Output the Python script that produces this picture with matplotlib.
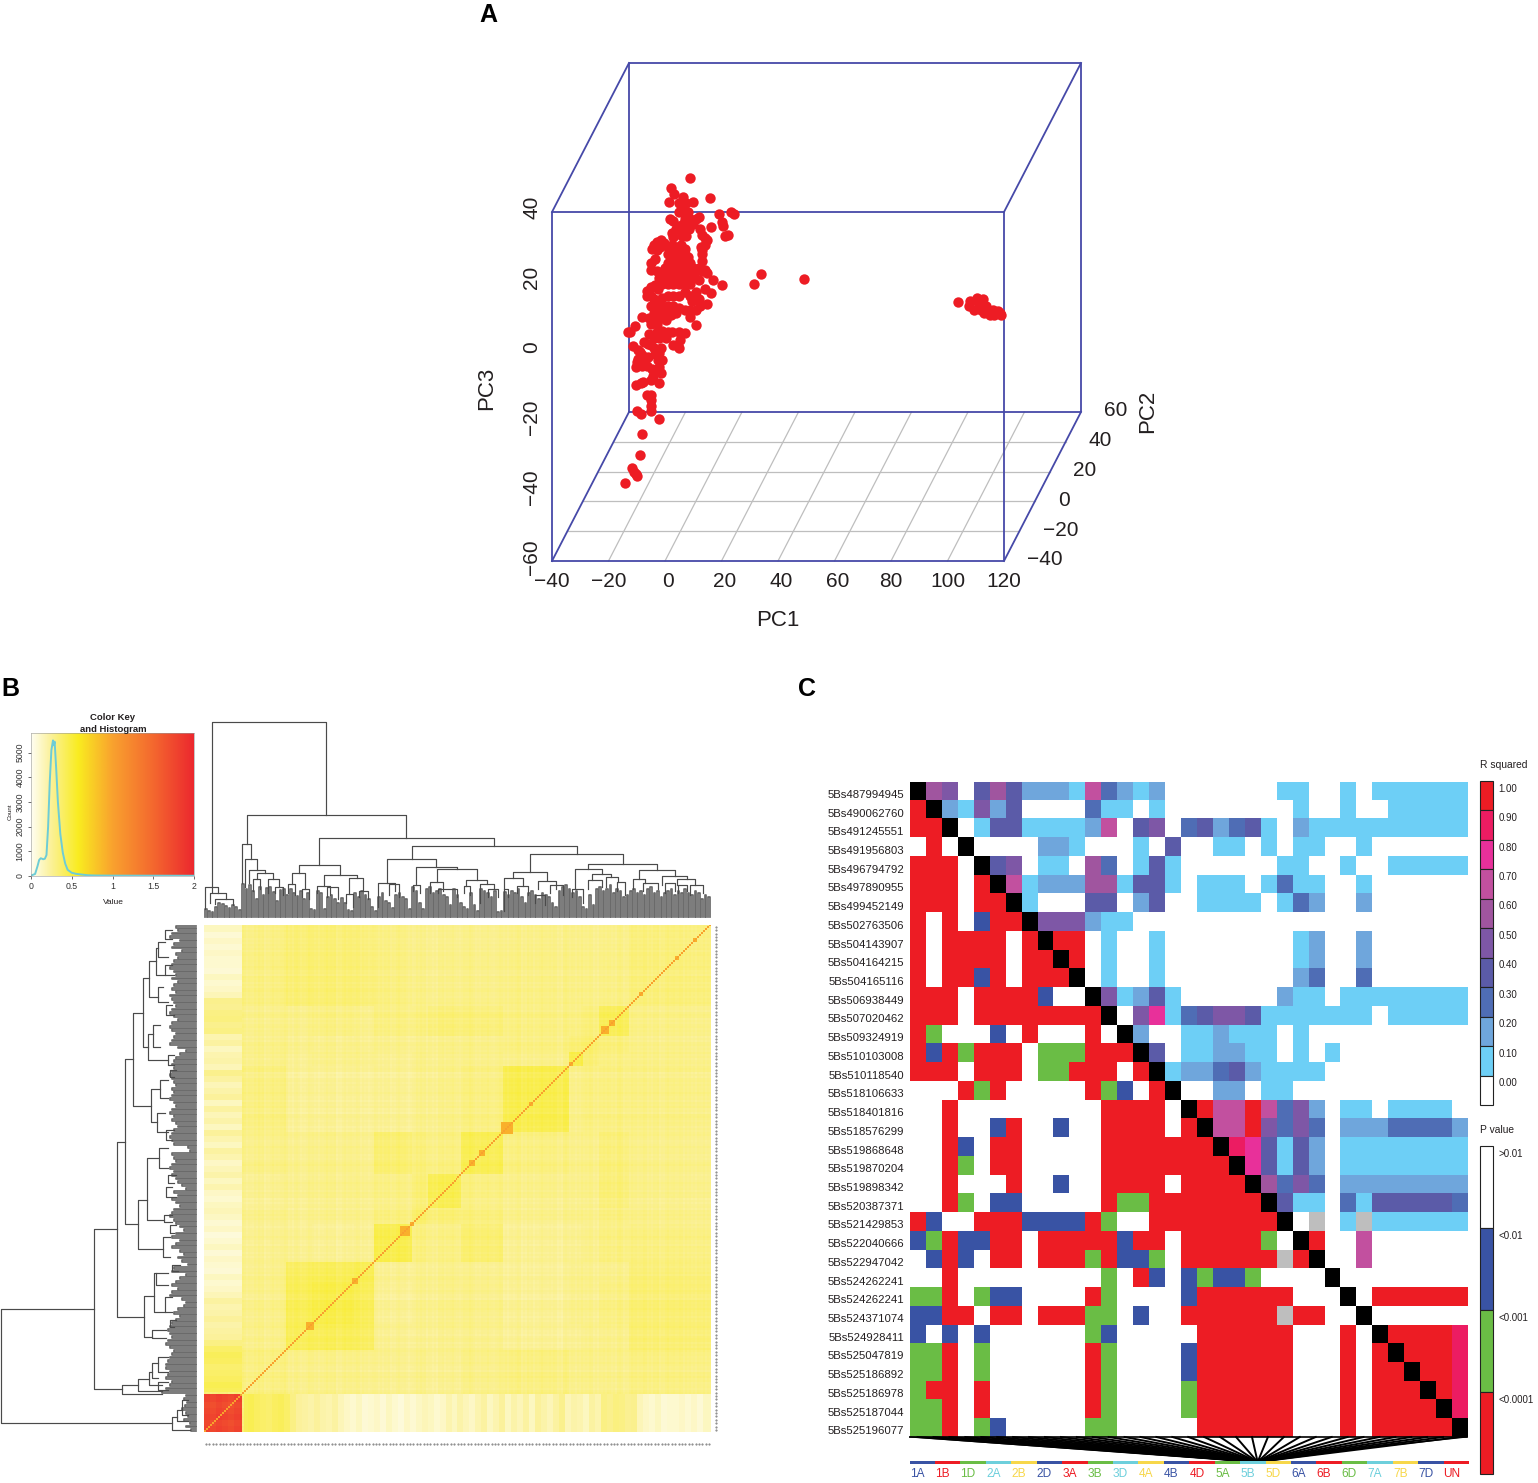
import numpy as np
import matplotlib
matplotlib.use("Agg")
import matplotlib.pyplot as plt
from matplotlib.colors import LinearSegmentedColormap, to_rgb

plt.rcParams["font.family"] = ["Liberation Sans", "DejaVu Sans"]

W, H = 1538, 1483

# ---- panel A: PC scores, read as if on the front face of the box
pc1 = [9, 2.1, 3.2, 1.5, 9.8, 6.5, 5, 7.5, 6, 4.8, 8, 16, 19, 20, 20.4, 23.2, 24.4, 16.4, 21.3, 22.4,
       1.8, 3, 7, 9, 11, 12, 5, 6.5, 8.2, 10, 3.8, 5.5, 7, 8.5, 12.5, 13, 2.4, 3, 6, 7.5, 14, 15, 14, 12.8, 13, 13.2, 13.2,
       -4, -3, -1.5, -4.5, -3, -1.8, -0.5, 1, 1, 2.5, 4, 5.5, 7, 3, 5, 7,
       2, 4, 6, 8, 1, 3, 5, 7, 9, 0, 2, 4, 6, 8, 10, 12, 14, -1, 1, 3, 5, 7, 9, 11, 13, 15, -2, 0, 2, 4, 6, 8, 10, 12,
       -1, 1, 3, 5, 7, 9, 17, 20,
       -5, -3.5, -5, -3, -6.5, -5, -6.5, -5, -3.5, -2.5, -4, 16.2, 14, 11, 9, 7, 5, 3, 1, -1,
       -5, -3, -1, 1, 3, 5, 7, 9, 11, 12.5, 15, 12, 9.5, -4, -2, 0, 2, 4, -5.5, -3.5, -1.5, 0.5, 9, -5, -3, -8, 11, -10.7, -12.5, -13,
       -5.5, -3, -1, 1, -4, -2, 0.5, 2.5, 5, 7, -2, 5.3, 3, 4.5, 5, -7.5, -6, -5, -11.2, -4,
       -8.8, -9.5, -8, -9.5, -7.5, -6, -3.5, -2, -1.5, -10, -8, -6.5, -4.5, -2.5, -1, -2, -3, -1.5, -10.2, -4.2,
       -10.2, -8.5, -7.7, -4.8, -2, -6.5, -5, -5, -5, -5, -10, -8.4, -2, -8.2, -8.8, -11.7, -10.2, -10, -11, -14,
       31.4, 34, 49.2,
       103.7, 107.5, 108, 109.5, 110, 110.5, 111, 112, 112, 112.5, 113, 113.5, 114.5, 115, 116, 116.5, 117.5, 118.5, 119, 118]
pc3 = [49.6, 46.8, 45.3, 43, 43, 44.2, 42.5, 42.5, 40.5, 40, 40, 43.9, 39.4, 37.2, 36, 40.1, 39.4, 35.7, 33.1, 33.4,
       38, 37.5, 38, 38, 38, 38.5, 36, 36.5, 37, 36.5, 35, 34.5, 34.5, 35, 35, 33.5, 34, 32.8, 33, 33, 32.5, 32, 30.5, 30, 29, 28, 26,
       30.5, 31.5, 32, 29.5, 29, 30, 31, 30, 28, 30.5, 30, 30.5, 29.5, 28.5, 28.5, 28,
       27, 27, 27, 27, 25.5, 25.5, 25.5, 25.5, 25.5, 24, 24, 24, 24, 24, 24, 24, 23.5, 22.5, 22.5, 22.5, 22.5, 22.5, 22.5, 23, 23, 22.5, 21, 21, 21, 21, 21, 21, 21, 20.5,
       19.5, 19.5, 19.5, 19.5, 19.5, 19.5, 20.5, 19,
       25.5, 26.5, 23.5, 23, 17.5, 18.5, 16, 16, 19, 18, 15, 16.9, 18, 17, 16, 17, 16, 16, 16, 15.5,
       13, 13, 13, 13, 13, 12.5, 12, 12, 12, 13, 13.5, 15, 14.5, 11, 11, 11, 10.5, 11, 9.5, 9.5, 9.5, 9, 10, 8, 8, 10, 7.5, 7.2, 5.6, 5.5,
       5, 5.5, 6, 5.5, 4, 4, 4, 5.5, 5.5, 5.3, 5, 3.2, 2, 1.5, 0.9, 2.8, 2.2, 2, 1.7, 1,
       0, 0.5, -1, -2, -2.5, -1.5, -0.8, -0.5, 1, -3, -4, -4, -5, -2.5, -2.5, -4.5, -5.5, -6, -4.5, -7,
       -9.5, -9, -8.7, -8.2, -9, -12.3, -12.5, -14, -15.5, -17, -17, -18, -19.4, -23.7, -29.5, -33.4, -35, -35.7, -34.5, -37.6,
       19.4, 22.2, 20.8,
       14.2, 13, 14.5, 12, 14.8, 15.5, 13.5, 14, 12, 15, 11, 13, 11.5, 10.5, 12, 10.5, 11.2, 11, 10.5, 11.5]
pc1_ticks = [-40, -20, 0, 20, 40, 60, 80, 100, 120]
pc2_ticks = [-40, -20, 0, 20, 40, 60]
pc3_ticks = [-60, -40, -20, 0, 20, 40]

# ---- panel B: colour key
key_value = [0, 0.05, 0.08, 0.1, 0.12, 0.15, 0.17, 0.19, 0.21, 0.23, 0.25, 0.27, 0.28, 0.29, 0.31, 0.33, 0.36,
             0.39, 0.42, 0.45, 0.5, 0.55, 0.62, 0.7, 0.8, 1, 2]
key_count = [20, 80, 400, 650, 720, 680, 700, 850, 2000, 3800, 5100, 5500, 5300, 5450, 4300, 3000, 1700,
             950, 500, 250, 130, 90, 60, 30, 20, 15, 10]

# ---- panel B: heatmap blocks, along the sample order
block_edges = [0, 39, 83, 108, 150, 171, 208, 224, 259, 301, 366, 381, 396, 426, 507]
block_upper = [
    [1.75, .3, .3, .3, .3, .3, .3, .3, .3, .3, .3, .3, .3, .3],
    [.30, .28, .28, .28, .26, .27, .26, .28, .30, .28, .28, .28, .30],
    [.42, .42, .40, .26, .26, .27, .27, .25, .26, .27, .28, .34],
    [.46, .42, .25, .27, .28, .28, .25, .28, .27, .30, .34],
    [.44, .26, .27, .28, .27, .25, .28, .27, .28, .33],
    [.44, .30, .29, .34, .25, .26, .27, .30, .30],
    [.36, .33, .31, .27, .28, .27, .30, .28],
    [.44, .30, .28, .28, .28, .33, .28],
    [.42, .30, .28, .28, .32, .28],
    [.44, .28, .30, .30, .29],
    [.46, .34, .30, .29],
    [.36, .32, .28],
    [.42, .29],
    [.32],
]
# relatedness of the outlier group to everything else, one value per 6 units from 39 on
outgroup = [.42, .44, .40, .38, .36, .40, .42, .38, .30, .24, .22, .20, .24, .20, .18, .22, .16, .12, .10, .14, .08, .10, .12,
            .08, .14, .10, .07, .12, .09, .13, .16, .14, .10, .12, .18, .14, .20, .16, .12, .18, .22, .14, .18, .24, .14, .20,
            .16, .22, .14, .24, .20, .16, .22, .28, .16, .20, .18, .14, .22, .18, .30, .28, .32, .30, .26, .28, .16, .12,
            .10, .14, .08, .10, .10, .12, .09, .12, .08, .14]
# small plaid along the order, same step of 6 units
plaid = [.01, -.01, .02, 0, -.02, .01, .02, -.01, 0, .02, -.02, .01, 0, .03, -.01, .01, -.02, .02, 0, -.01, .02, .01, -.03,
         .01, 0, .02, -.01, -.02, .02, 0, .01, -.01, .03, 0, -.02, .01, .02, -.01, -.03, .01, 0, .02, -.02, .01, .03, -.01,
         0, .01, -.02, .02, -.01, 0, .03, -.02, .01, -.01, .02, 0, .01, -.03, .02, 0, -.01, .01, .02, -.02, 0, .01,
         -.01, .02, -.02, .01, 0, .02, -.01, .01, -.02, .02, 0, .01, -.01]
# finer streaks in the same cells, step of one cell, repeated
fine_plaid = [.012, -.008, .004, -.014, .01, .002, -.006, .014, -.01, .006, -.002, .012, -.012, .008, 0, -.006, .01, -.014, .004,
              .012, -.004, -.01, .008, .002, -.012, .014, -.002]
spot_pos = [106, 151, 171, 201, 208, 269, 279, 304, 328, 339, 368, 402, 409, 438, 445, 474, 492]
spot_size = [8, 5, 3, 9, 3, 4, 7, 10, 2, 3, 4, 6, 4, 3, 2, 3, 2]

# ---- panel B: dendrograms (left leg, right leg, height, left leg end, right leg end)
top_nodes = [
    (8, 122, 195, 25, 102), (42.7, 202.3, 102, 73, 78.7), (38.3, 47.3, 73, 33.7, 58.3), (41, 53.3, 58.3, 30, 47),
    (45.3, 60.7, 47, 33.7, 43.7), (52.7, 69.3, 43.7, 38, 38), (115.3, 290, 78.7, 52, 71.3), (207.7, 372.7, 71.3, 57.7, 63),
    (94.7, 136, 52, 44.3, 42), (87.7, 101.3, 44.3, 33, 28.3), (120.3, 152.7, 42, 31, 39.3), (145.3, 159.3, 39.3, 23, 26.3),
    (182.7, 232.3, 57.7, 33.7, 50.3), (211.7, 253.3, 50.3, 32.3, 48), (232.7, 272.7, 48, 35, 37), (326, 418.7, 63, 45.3, 53),
    (309.3, 342.7, 45.3, 38.7, 37), (300.3, 319.3, 38.7, 27.7, 31), (333.7, 351.7, 36.3, 28, 28), (384.3, 452.7, 53, 47.7, 47),
    (371, 397.7, 47.7, 27.7, 43), (387.7, 406.7, 43, 37, 40.3), (435, 471, 47, 37.7, 41), (457.7, 483.3, 41, 32, 37.7),
    (472.7, 491, 37.7, 32, 32), (1, 14, 30, 8, 24), (6, 22, 24, 14, 18), (11, 29, 18, 13, 12),
    (48.7, 56, 38, 26, 28), (64.3, 75, 38, 24, 29.7), (71, 79.3, 29.7, 24, 22), (84.3, 91, 33, 24, 22),
    (97.7, 105, 28.3, 20, 18), (112.7, 126, 31, 24, 22), (122.7, 134.3, 29.7, 20, 18), (141.7, 149.3, 23, 14, 10),
    (155.3, 164.3, 26.3, 20, 18), (174.3, 191, 33.7, 10, 26), (185.3, 195, 33, 22, 20), (209.3, 216, 32, 26, 24),
    (226, 239.3, 35.3, 24, 26), (234.3, 252.7, 27.7, 24, 20), (262, 283.3, 37, 31, 33), (260.3, 266, 31, 24, 22),
    (276, 290.3, 33, 14, 27.7), (284.3, 294.3, 27.7, 20, 20), (300.3, 304.3, 27.7, 6, 20), (312.7, 324.3, 31, 24, 22),
    (331, 341, 22, 14, 12), (346, 359.3, 32, 24, 22), (367.7, 379.3, 27.7, 20, 14), (384.3, 397.7, 37, 28, 30),
    (401.7, 414.3, 40.3, 30, 35.3), (412.7, 421, 35.3, 26, 22), (429.3, 441, 37.7, 28, 33.7), (439.3, 454.3, 33.7, 26, 28),
    (461, 471, 33.7, 24, 26), (474.3, 482.7, 32, 24, 26), (486, 499.3, 32, 22, 24),
]
top_leaf_h = [8, 6, 5, 10, 14, 13, 11, 9, 12, 10, 7,
              33, 28, 32, 26, 18, 30, 22, 29, 30, 25, 16, 27, 28, 22,
              28, 24, 21, 26, 18, 24, 8, 7,
              26, 24, 8, 20, 22, 18, 14, 19, 14, 7, 6,
              24, 20, 26, 22, 18, 10, 6, 20, 24, 16,
              14, 9, 22, 24, 20, 18, 8,
              30, 26, 14, 8, 28, 30, 24, 26, 28, 22, 20, 12,
              28, 22, 14, 10, 8, 24, 12, 6, 28, 26, 24, 20, 26, 5, 6,
              25, 22, 26, 24, 28, 20, 14, 24, 26, 22, 18, 24, 22,
              20, 14, 10, 26, 30, 32, 28, 24, 26, 20, 10, 8,
              22, 12, 28, 30, 26, 28, 32, 24, 28, 26, 20, 22, 26,
              28, 24, 26, 22, 28, 30, 24, 26, 20, 24, 26, 28, 22, 26, 24, 28, 24, 22, 26, 24, 18, 22, 20]
left_nodes = [
    (384, 498, 195, 102, 24), (304, 464, 102, 79, 74), (217, 392, 79, 71, 52), (134, 299, 71, 63, 58),
    (88, 181, 63, 53, 45), (53, 122, 53, 47, 48), (36, 72, 47, 40, 38), (23, 50, 40, 38, 31),
    (17, 32, 38, 31, 28), (62, 77, 38, 33, 28), (109, 135, 48, 43, 28), (100, 122, 43, 36, 36),
    (130, 140, 28, 22, 22), (164, 197, 45, 36, 39), (155, 173, 36, 28, 28), (188, 207, 39, 31, 28),
    (275, 324, 58, 49, 33), (233, 295, 49, 37, 32), (223, 243, 37, 28, 28), (290, 297, 32, 24, 24),
    (312, 332, 33, 26, 26), (371, 412, 52, 42, 44), (348, 387, 42, 40, 31), (348, 360, 40, 28, 28),
    (372, 387, 31, 24, 24), (405, 413, 44, 30, 30), (460, 469, 74, 58, 34), (454, 466, 58, 47, 34),
    (447, 460, 47, 44, 34), (438, 453, 44, 38, 38), (432, 447, 38, 28, 28), (457, 465, 38, 28, 28),
    (492, 505, 24, 19, 6), (485, 496, 19, 14, 8), (475, 490, 14, 8, 8),
    (5, 14, 31, 24, 24), (40, 50, 31, 24, 22), (80, 90, 30, 24, 22), (145, 152, 26, 20, 22), (205, 215, 30, 22, 24),
    (250, 258, 28, 20, 22), (262, 272, 30, 24, 20), (300, 308, 26, 20, 22), (340, 346, 24, 16, 18), (395, 402, 26, 20, 22),
]
left_leaf_d = [20, 18, 24, 26, 16, 22, 24, 14, 20, 18, 22, 24, 26, 22, 20, 24, 18, 22, 24, 20, 26, 24, 22, 20, 24, 26, 22, 18,
               24, 26, 24, 20, 22, 24, 26, 18, 10, 16, 20, 22, 24, 22, 24, 26, 24, 22, 20, 24, 22, 24, 26, 22, 20, 24, 26, 22,
               24, 20, 18, 22, 24, 26, 24, 22, 8, 6, 24, 22, 20, 24, 26, 22, 24, 20, 18, 14, 10, 22, 18, 24, 20, 16, 22, 24,
               26, 22, 20, 16, 12, 20, 24, 16, 20, 24, 16, 12, 18, 14, 8, 22, 24, 10, 16, 20, 24, 18, 24, 26, 14, 10, 12, 18,
               22, 16, 20, 24, 26, 28, 26, 24, 28, 30, 26, 22, 24, 26, 28, 30, 30, 26, 28, 30, 24, 26, 30, 34,
               10, 12, 9, 11, 14, 10, 8, 12, 6, 10, 5]

# ---- panel C: lower triangle P class, upper triangle R squared x 10, x on the diagonal
snp_names = ["5Bs487994945", "5Bs490062760", "5Bs491245551", "5Bs491956803", "5Bs496794792", "5Bs497890955", "5Bs499452149",
             "5Bs502763506", "5Bs504143907", "5Bs504164215", "5Bs504165116", "5Bs506938449", "5Bs507020462", "5Bs509324919",
             "5Bs510103008", "5Bs510118540", "5Bs518106633", "5Bs518401816", "5Bs518576299", "5Bs519868648", "5Bs519870204",
             "5Bs519898342", "5Bs520387371", "5Bs521429853", "5Bs522040666", "5Bs522947042", "5Bs524262241", "5Bs524262241",
             "5Bs524371074", "5Bs524928411", "5Bs525047819", "5Bs525186892", "5Bs525186978", "5Bs525187044", "5Bs525196077"]
ld_rows = [
    "x650464222" "1732120000" "0001100101" "11111",
    "rx21524000" "0311010000" "0000100100" "11111",
    "rrx0144111" "1270450342" "3410211111" "11111",
    ".r.x000022" "1000104001" "1010110010" "00000",
    "rrr.x45011" "0630141000" "0001100100" "11111",
    "rrr.rx7122" "2661441011" "1013110010" "00000",
    "rrr.rrx100" "0440240011" "1101320020" "00000",
    "r.r.brrx555211000000000000000000000",
    "r.rrrr.rxrr.10010000000012002000000",
    "r.rrrr.rrxr.10010000000012002000000",
    "r.rrbr.rrrx.10010000000023003000000",
    "rrr.rrrrb..x51241000000211011111111",
    "rrr.rrrrrrrrx0581345541111111011111",
    "rg...b.r...r.x200112111010000000000",
    "rbrgrrr.gggrrrx40112211010100000000",
    "rrr.rrr.ggrrr.rx1223421111000000000",
    "...rgr.....rgb.rx002201100000000000",
    "..r.........rrrr.xr77r7352011011110",
    "..r..br..b..rrrr.rx77r5353022233332",
    "..rb.rr.....rrrrrrrx984142011111111",
    "..rg.rr.....rrrrrrrrx84142011111111",
    "..r...r..b..rrrr.rrrrx6353022222222",
    "..rg.bb.....rggrrrrrrrx411031444443",
    "rb..rrrbbbbrg..rrrrrrrrx0s01s111111",
    "bgrbbrr.rrrrrbrr.rrrrrg.xr007000000",
    ".brb.rr.rrrgrbbg.rrrrrrsrx007000000",
    "..r.........g.rb.bgbbg....x00000000",
    "ggr.gbb....rg....brrrrrr...x0rrrrrr",
    "bbrr.rr.rrrgg.b..rrrrrrsrr..x000000",
    "b.b.b......gb.....rrrrrr...r.xrrrr9",
    "ggr.g......rg....brrrrrr...r.rxrrr9",
    "ggr.g......rg....brrrrrr...r.rrxrr9",
    "grr.r......rg....grrrrrr...r.rrrxr9",
    "ggr.r......rg....grrrrrr...r.rrrrx9",
    "ggr.gb.....gg.....rrrrrr...r.rrrrrx",
]
# where each SNP line lands on the chromosome bar, in column units
fan_ends = [21.0, 21.04, 21.08, 21.12, 21.16, 21.2, 21.24, 21.28, 21.32, 21.36, 21.4, 21.44, 21.48, 21.52, 21.56, 21.6, 21.64,
            21.68, 21.72, 21.76, 21.8, 21.84, 21.88, 21.92, 21.96, 22.0, 22.04, 22.08, 22.12, 22.16, 22.2, 22.24, 22.28, 22.32, 22.36]
chrom_names = ["1A", "1B", "1D", "2A", "2B", "2D", "3A", "3B", "3D", "4A", "4B", "4D", "5A", "5B", "5D", "6A", "6B", "6D", "7A", "7B", "7D", "UN"]
r2_labels = ["1.00", "0.90", "0.80", "0.70", "0.60", "0.50", "0.40", "0.30", "0.20", "0.10", "0.00"]
r2_colors = ["#ED1C24", "#EC1C62", "#E8309A", "#C2509F", "#A0559F", "#7E57A6", "#5B5BA8", "#4F6DB5", "#6FA6DC", "#6DCFF6", "#FFFFFF"]
p_labels = [">0.01", "<0.01", "<0.001", "<0.0001"]
p_colors = ["#FFFFFF", "#3953A4", "#6ABD45", "#ED1C24"]

BLUE_BOX = "#4649A8"
TXT = "#231F20"

fig = plt.figure(figsize=(W / 100, H / 100), dpi=100)


def box(x0, y0, x1, y1):
    a = fig.add_axes([x0 / W, 1 - y1 / H, (x1 - x0) / W, (y1 - y0) / H])
    a.axis("off")
    return a


def fig_text(x, y, s, **kw):
    fig.text(x / W, 1 - y / H, s, ha=kw.pop("ha", "center"), va=kw.pop("va", "center"), color=kw.pop("color", TXT), **kw)


for letter, lx, ly in [("A", 488, 15), ("B", 10, 689), ("C", 807, 689)]:
    fig_text(lx, ly, letter, fontsize=18, fontweight="bold", color="black")

# ---- A
ax = box(552, 212, 1004, 561)
ax.set_xlim(-40, 120)
ax.set_ylim(-60, 40)
dx = 27.26 / 100  # PC1 units per PC2 unit on screen
dy = 42.7 / 100


def proj(a, b, c):
    return a + (b + 40) * dx, c + (b + 40) * dy


for t in pc1_ticks[1:-1]:
    p = [proj(t, -40, -60), proj(t, 60, -60)]
    ax.plot(*zip(*p), color="#BEBEBE", lw=0.9, clip_on=False)
for t in pc2_ticks[1:-1]:
    p = [proj(-40, t, -60), proj(120, t, -60)]
    ax.plot(*zip(*p), color="#BEBEBE", lw=0.9, clip_on=False)
for b in (60, -40):
    xs, ys = proj(np.array([-40, 120, 120, -40, -40]), b, np.array([-60, -60, 40, 40, -60]))
    ax.plot(xs, ys, color=BLUE_BOX, lw=1.3, clip_on=False)
for a0, c0 in [(-40, -60), (120, -60), (-40, 40), (120, 40)]:
    p = [proj(a0, -40, c0), proj(a0, 60, c0)]
    ax.plot(*zip(*p), color=BLUE_BOX, lw=1.3, clip_on=False)
xs, ys = proj(np.array(pc1), -40, np.array(pc3))
ax.scatter(xs, ys, s=56, color="#ED1C24", linewidths=0, clip_on=False, zorder=5)
for t in pc1_ticks:
    lx = t + 1.2 if 0 <= t <= 60 else t
    ax.text(lx, -65.9, str(t).replace("-", "\u2212"), ha="center", va="center", fontsize=15, color=TXT)
for t in pc3_ticks:
    ax.text(-47.2, t + 1.2, str(t).replace("-", "\u2212"), ha="center", va="center", rotation=90, fontsize=15, color=TXT)
for t in pc2_ticks:
    xx, yy = proj(120, t, -60)
    ax.text(xx + 8.2, yy + 0.3, str(t).replace("-", "\u2212"), ha="left", va="center", fontsize=15, color=TXT)
fig_text(778, 620, "PC1", fontsize=16)
fig_text(487, 388, "PC3", fontsize=16, rotation=90)
fig_text(1148, 411, "PC2", fontsize=16, rotation=90)

# ---- B colour key
key_cmap = LinearSegmentedColormap.from_list("key", [(0, "#FFFEF2"), (0.125, "#FBF196"), (0.29, "#F9EC20"),
                                                     (0.5, "#F9A22E"), (0.75, "#F4682F"), (1, "#EC282E")])
ax = fig.add_axes([31 / W, 1 - 876 / H, 163 / W, 143 / H])
ax.imshow(np.linspace(0, 2, 256)[None, :], extent=(0, 2, 0, 5800), aspect="auto", cmap=key_cmap, vmin=0, vmax=2)
ax.plot(key_value, key_count, color="#6DCCD6", lw=1.4)
ax.set_xlim(0, 2)
ax.set_ylim(0, 5800)
ax.set_xticks([0, 0.5, 1, 1.5, 2], ["0", "0.5", "1", "1.5", "2"])
ax.set_yticks([0, 1000, 2000, 3000, 4000, 5000])
ax.tick_params(axis="both", labelsize=6.3, length=2.5, width=0.5, pad=2, colors="#333333")
for lab in ax.get_yticklabels():
    lab.set_rotation(90)
    lab.set_va("center")
for s in ax.spines.values():
    s.set_linewidth(0.4)
    s.set_color("#999999")
fig_text(113, 903, "Value", fontsize=6)
fig_text(10, 812, "Count", fontsize=4.5, rotation=90)
fig_text(113, 718, "Color Key", fontsize=6.8, fontweight="bold")
fig_text(113, 730, "and Histogram", fontsize=6.8, fontweight="bold")

# ---- B heatmap
step = 2
n = 507 // step + 1
centres = (np.arange(n) + 0.5) * step
idx = np.clip(np.searchsorted(block_edges, centres, side="right") - 1, 0, len(block_edges) - 2)
upper = np.zeros((14, 14))
for i, row in enumerate(block_upper):
    for k, v in enumerate(row):
        upper[i, i + k] = v
        upper[i + k, i] = v
kin = upper[idx][:, idx]
pl = np.array(plaid)[np.clip((centres // 6).astype(int), 0, len(plaid) - 1)]
fp = np.array(fine_plaid)[np.arange(n) % len(fine_plaid)]
kin = kin + pl[:, None] * 0.7 + pl[None, :] * 0.7 + fp[:, None] + fp[None, :]
out = np.array(outgroup)[np.clip(((centres - 39) // 6).astype(int), 0, len(outgroup) - 1)]
mask = centres > 39
first = centres < 39
kin[np.ix_(first, mask)] = out[mask]
kin[np.ix_(mask, first)] = out[mask][:, None]
kin[np.ix_(first, first)] = 1.75 + pl[first][:, None] * 2 + pl[first][None, :] * 2
for sp, sz in zip(spot_pos, spot_size):
    near = np.abs(centres - sp) <= sz / 2
    kin[np.ix_(near, near)] = 0.92
np.fill_diagonal(kin, 1.0)
ax = box(204, 925, 711, 1432)
ax.imshow(kin, origin="lower", extent=(0, 507, 0, 507), aspect="auto", cmap=key_cmap, vmin=0, vmax=2, interpolation="nearest")
ax.set_xlim(0, 507)
ax.set_ylim(0, 507)
tick_pos = np.arange(2, 507, 3.4)
ax.plot(tick_pos, np.full(tick_pos.shape, -12), ls="", marker=".", ms=1.0, color="#777777", clip_on=False)
ax.plot(np.full(tick_pos.shape, 512), tick_pos, ls="", marker=".", ms=1.0, color="#777777", clip_on=False)

# ---- B top dendrogram
ax = box(204, 722, 711, 917)
ax.set_xlim(0, 507)
ax.set_ylim(0, 195)
pos = np.linspace(1.7, 505, len(top_leaf_h))
for x, h in zip(pos, top_leaf_h):
    ax.plot([x - 0.85, x - 0.85, x + 0.85, x + 0.85], [0, h, h, 0], color="#6A6A6A", lw=1.25, clip_on=False)
for l, r, h, hl, hr in top_nodes:
    ax.plot([l, l, r, r], [hl, h, h, hr], color="#4A4A4A", lw=0.85, clip_on=False)

# ---- B left dendrogram
ax = box(0, 925, 196, 1432)
ax.set_xlim(196, 0)
ax.set_ylim(507, 0)
pos = np.linspace(1.7, 505, len(left_leaf_d))
for y, d in zip(pos, left_leaf_d):
    ax.plot([0, d, d, 0], [y - 0.85, y - 0.85, y + 0.85, y + 0.85], color="#6A6A6A", lw=1.25, clip_on=False)
for t, b, d, dt, db in left_nodes:
    ax.plot([dt, d, d, db], [t, t, b, b], color="#4A4A4A", lw=0.85, clip_on=False)

# ---- C matrix
palette = {".": "#FFFFFF", "b": "#3953A4", "g": "#6ABD45", "r": "#ED1C24", "s": "#BEBEBE", "x": "#000000", "0": "#FFFFFF"}
for i in range(1, 10):
    palette[str(i)] = r2_colors[10 - i]
rows = [r.ljust(35, "0")[:35] for r in ld_rows]
img = np.array([[to_rgb(palette[c]) for c in r] for r in rows])
ax = box(909.6, 781.7, 1467, 1437)
ax.imshow(img, extent=(0, 35, 35, 0), aspect="auto", interpolation="nearest")
for i, name in enumerate(snp_names):
    ax.text(-0.36, i + 0.7, name, ha="right", va="center", fontsize=8.2, color=TXT, clip_on=False)

ax = box(909.6, 1437, 1467, 1461)
ax.set_xlim(0, 35)
ax.set_ylim(1, 0)
for i, e in enumerate(fan_ends):
    ax.plot([i + 0.5, e], [0, 1], color="black", lw=1.4, clip_on=False)
ax.plot([0, 35], [0, 0], color="black", lw=1.2, clip_on=False)
ax.plot([0, 21.0, 35], [0, 1, 0], color="black", lw=0.8, clip_on=False)

ax = box(909.6, 1461, 1469, 1464)
ax.set_xlim(0, len(chrom_names))
ax.set_ylim(0, 1)
chrom_cycle = ["#3953A4", "#ED1C24", "#6ABD45", "#6DCFDC", "#F7D74A"]
for i, name in enumerate(chrom_names):
    c = chrom_cycle[i % 5]
    ax.bar(i + 0.5, 1, width=1, color=c, linewidth=0)
    ax.text(i + 0.3, -3.4, name, ha="center", va="center", fontsize=8.6, color=c, clip_on=False)

# ---- C legends
ax = box(1480, 781, 1493, 1105)
ax.set_xlim(0, 1)
ax.set_ylim(len(r2_colors), 0)
for i, c in enumerate(r2_colors):
    ax.bar(0.5, 1, bottom=i, width=1, color=c, edgecolor="#222222", linewidth=0.8, clip_on=False)
    ax.text(1.4, i + 0.26, r2_labels[i], ha="left", va="center", fontsize=7, color=TXT, clip_on=False)
ax = box(1480, 1146, 1493, 1474)
ax.set_xlim(0, 1)
ax.set_ylim(len(p_colors), 0)
for i, c in enumerate(p_colors):
    ax.bar(0.5, 1, bottom=i, width=1, color=c, edgecolor="#222222", linewidth=0.8, clip_on=False)
    ax.text(1.4, i + 0.1, p_labels[i], ha="left", va="center", fontsize=7, color=TXT, clip_on=False)
fig_text(1480, 765, "R squared", ha="left", fontsize=7.4)
fig_text(1480, 1130, "P value", ha="left", fontsize=7.4)

fig.savefig("out.png", dpi=100, facecolor="white")
